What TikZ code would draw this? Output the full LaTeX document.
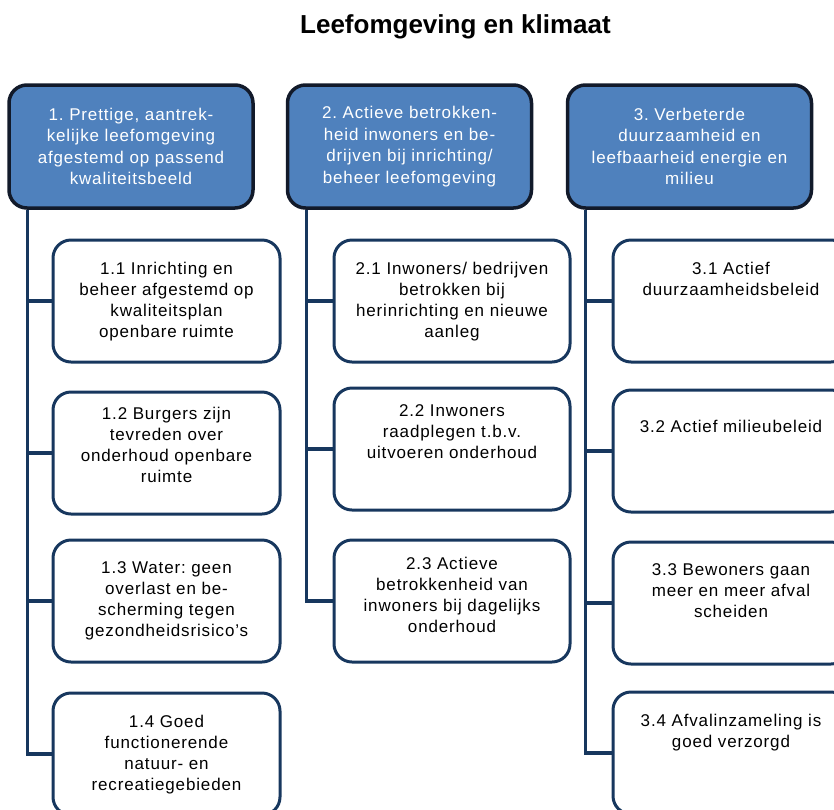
\documentclass[tikz,border=0pt]{standalone}
\usepackage{fontspec}
\setmainfont{Liberation Sans}
\newfontfamily\boxfont{Liberation Sans}[LetterSpace=5]
\frenchspacing

\definecolor{hdrblue}{RGB}{79,129,189}
\definecolor{hdrline}{RGB}{18,26,42}
\definecolor{navy}{RGB}{23,55,94}

%text of a child box, top aligned
\newcommand{\ctxt}[2][22pt]{\parbox[c][122pt][t]{215pt}{\vspace*{#1}\centering #2}}

\tikzset{
	header/.style={draw=hdrline, line width=3.5pt, fill=hdrblue, rounded corners=18pt, minimum width=244pt, minimum height=123pt, inner sep=0pt, text=white, align=center, font=\boxfont\fontsize{17}{21.5}\selectfont},
	child/.style={draw=navy, line width=3pt, fill=white, rounded corners=18pt, minimum width=236pt, minimum height=122pt, inner sep=0pt, font=\boxfont\fontsize{17}{21}\selectfont},
	conn/.style={draw=navy, line width=3.2pt}
}

\begin{document}
\begin{tikzpicture}[x=1pt, y=1pt]
			\useasboundingbox (0,0) rectangle (834,-809);
			\clip (0,0) rectangle (834,-809);
			
			\node[font=\bfseries\fontsize{26}{30}\selectfont, anchor=base] (title) at (455.5,-33) {Leefomgeving en klimaat};
			
			%Column 1
			\node[header] (h1) at (131,-146.5) {1. Prettige, aantrek-\\kelijke leefomgeving\\afgestemd op passend\\kwaliteitsbeeld};
			\node[child, minimum width=227pt] (c11) at (166.5,-301) {\ctxt{1.1 Inrichting en\\beheer afgestemd op\\kwaliteitsplan\\openbare ruimte}};
			\node[child, minimum width=227pt] (c12) at (166.5,-453) {\ctxt[15pt]{1.2 Burgers zijn\\tevreden over\\onderhoud openbare\\ruimte}};
			\node[child, minimum width=227pt] (c13) at (166.5,-601) {\ctxt{1.3 Water: geen\\overlast en be-\\scherming tegen\\gezondheidsrisico’s}};
			\node[child, minimum width=227pt] (c14) at (166.5,-754) {\ctxt{1.4 Goed\\functionerende\\natuur- en\\recreatiegebieden}};
			
			\draw[conn] ([xshift=20pt]h1.south west) |- (c11.west);
			\draw[conn] ([xshift=20pt]h1.south west) |- (c12.west);
			\draw[conn] ([xshift=20pt]h1.south west) |- (c13.west);
			\draw[conn] ([xshift=20pt]h1.south west) |- (c14.west);
			
			%Column 2
			\node[header] (h2) at (409.5,-146.5) {2. Actieve betrokken-\\heid inwoners en be-\\drijven bij inrichting/\\beheer leefomgeving};
			\node[child] (c21) at (452,-301) {\ctxt{2.1 Inwoners/ bedrijven\\betrokken bij\\herinrichting en nieuwe\\aanleg}};
			\node[child] (c22) at (452,-449) {\ctxt[17pt]{2.2 Inwoners\\raadplegen t.b.v.\\uitvoeren onderhoud}};
			\node[child] (c23) at (452,-601) {\ctxt[17pt]{2.3 Actieve\\betrokkenheid van\\inwoners bij dagelijks\\onderhoud}};
			
			\draw[conn] ([xshift=21pt]h2.south west) |- (c21.west);
			\draw[conn] ([xshift=21pt]h2.south west) |- (c22.west);
			\draw[conn] ([xshift=21pt]h2.south west) |- (c23.west);
			
			%Column 3
			\node[header] (h3) at (689.5,-146.5) {3. Verbeterde\\duurzaamheid en\\leefbaarheid energie en\\milieu};
			\node[child] (c31) at (731,-301) {\ctxt{3.1 Actief\\duurzaamheidsbeleid}};
			\node[child] (c32) at (731,-451) {\ctxt[30pt]{3.2 Actief milieubeleid}};
			\node[child] (c33) at (731,-603) {\ctxt{3.3 Bewoners gaan\\meer en meer afval\\scheiden}};
			\node[child] (c34) at (731,-753) {\ctxt{3.4 Afvalinzameling is\\goed verzorgd}};
			
			\draw[conn] ([xshift=20pt]h3.south west) |- (c31.west);
			\draw[conn] ([xshift=20pt]h3.south west) |- (c32.west);
			\draw[conn] ([xshift=20pt]h3.south west) |- (c33.west);
			\draw[conn] ([xshift=20pt]h3.south west) |- (c34.west);
\end{tikzpicture}
\end{document}
